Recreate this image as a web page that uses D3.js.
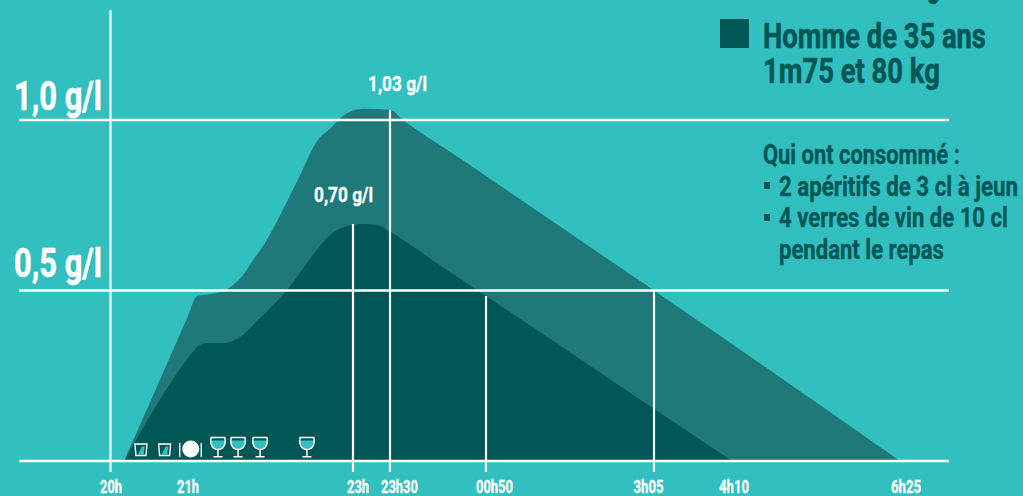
<!DOCTYPE html>
<html>
<head>
<meta charset="utf-8">
<script src="https://cdn.jsdelivr.net/npm/d3@7"></script>
<style>
  html, body { margin: 0; padding: 0; background: #31bfc0; }
  svg { display: block; }
  text { font-family: Roboto, sans-serif; font-weight: 700; }
</style>
</head>
<body>
<div class="graph-container"></div>
<script>
// minutes after 20h
const tickMinutes = [0, 60, 180, 210, 290, 425, 490, 625];
const tickLabels = ['20h', '21h', '23h', '23h30', '00h50', '3h05', '4h10', '6h25'];
const guideMinutes = [180, 210, 290, 425];
const guideLevels = [0.695, 1.03, 0.484, 0.5];

// alcohol level g/l
const minutesBack = [10.8, 40, 60, 66.5, 70.9, 83.3, 88.4, 100, 107.3, 116, 127, 141.5, 153.8, 163.3, 172.7, 188, 210, 220.8, 260, 290, 330, 425, 490, 625];
const levelBack = [0, 0.252, 0.425, 0.484, 0.487, 0.495, 0.504, 0.545, 0.589, 0.639, 0.721, 0.838, 0.938, 0.974, 1.012, 1.033, 1.03, 1.0, 0.907, 0.836, 0.736, 0.5, 0.343, 0];
const minutesFront = [10.8, 40.8, 57.7, 68.7, 73.8, 85.4, 95.6, 112.4, 132, 150.9, 163.3, 180, 188, 199.5, 210, 250, 290, 340, 400, 490];
const levelFront = [0, 0.194, 0.29, 0.34, 0.346, 0.346, 0.358, 0.419, 0.501, 0.604, 0.663, 0.692, 0.695, 0.692, 0.672, 0.578, 0.484, 0.362, 0.214, 0];

const gridLevels = [0, 0.5, 1];
const levelLabels = ['1,0 g/l', '0,5 g/l'];
const legendLines = ['Homme de 35 ans', '1m75 et 80 kg'];
const noteLines = ['Qui ont consommé :', '2 apéritifs de 3 cl à jeun', '4 verres de vin de 10 cl', 'pendant le repas'];
const glassMinutes = [81.8, 96.4, 112.4, 146.5];
const tumblerMinutes = [23.8, 42];
const plateMinutes = 62;

const [width, height] = [1023, 496];
const bg = '#31bfc0', dark = '#015756', mid = '#1f7978';

// the time axis of the original is hand placed, not linear
const x = d3.scaleLinear().domain(tickMinutes).range([110, 188, 353, 390, 486, 654, 732, 900]);
const y = d3.scaleLinear().domain([0, 1]).range([461, 120]);

const svg = d3.select('div.graph-container').append('svg')
  .attr('width', width).attr('height', height);

// text squeezed to the condensed width of the original
const label = (t, xPos, yPos, w, size, fill) => {
  const node = svg.append('text')
    .attr('font-size', size).attr('fill', fill)
    .attr('stroke', fill).attr('stroke-width', size > 30 ? 0.6 : 0.35)
    .text(t);
  const squeeze = w / node.node().getComputedTextLength();
  node.attr('transform', `translate(${xPos},${yPos}) scale(${squeeze},1)`);
  return node;
};

const area = d3.area().x(d => x(d[0])).y0(y(0)).y1(d => y(d[1])).curve(d3.curveMonotoneX);

svg.append('path').datum(d3.zip(minutesBack, levelBack)).attr('d', area).attr('fill', mid);
svg.append('path').datum(d3.zip(minutesFront, levelFront)).attr('d', area).attr('fill', dark);

// grid lines
svg.selectAll('line.grid').data(gridLevels).enter().append('line')
  .attr('class', 'grid')
  .attr('x1', 19).attr('x2', 949)
  .attr('y1', d => y(d)).attr('y2', d => y(d))
  .attr('stroke', '#fff').attr('stroke-width', 2.4);

// vertical axis and guides
svg.append('line').attr('x1', x(0) + 0.5).attr('x2', x(0) + 0.5).attr('y1', 10).attr('y2', 472)
  .attr('stroke', '#fff').attr('stroke-width', 2.2);
svg.selectAll('line.guide').data(guideMinutes).enter().append('line')
  .attr('class', 'guide')
  .attr('x1', d => x(d)).attr('x2', d => x(d))
  .attr('y1', (d, i) => y(guideLevels[i])).attr('y2', 472)
  .attr('stroke', '#fff').attr('stroke-width', 2.2);

// x labels, nudged off their ticks like the original
const labelNudge = [1, 0, 5, 9.5, 8.5, -5.5, 2, 6];
tickLabels.forEach((t, i) => {
  const w = t.length === 3 ? 22 : t.length === 4 ? 30 : 37;
  label(t, x(tickMinutes[i]) + labelNudge[i] - w / 2, 493, w, 18, '#fff');
});

// y labels
label(levelLabels[0], 14, 110, 88, 41, '#fff');
label(levelLabels[1], 14, 277, 88, 41, '#fff');
label('1,03 g/l', 368, 91, 59, 20, '#fff');
label('0,70 g/l', 314, 202, 59, 20, '#fff');

// legend
label('g', 927, -3, 13, 35, dark);
svg.append('rect').attr('x', 720).attr('y', 19).attr('width', 29).attr('height', 29).attr('fill', dark);
label(legendLines[0], 763, 48, 223, 35, dark);
label(legendLines[1], 763, 83, 177, 35, dark);

label(noteLines[0], 763, 164, 197, 27, dark);
label(noteLines[1], 779, 196, 239, 27, dark);
label(noteLines[2], 779, 227, 229, 27, dark);
label(noteLines[3], 779, 259, 165, 27, dark);
[182, 214].forEach(yy => {
  svg.append('rect').attr('x', 764).attr('y', yy).attr('width', 6).attr('height', 7).attr('fill', dark);
});

// pictograms
const glass = svg.selectAll('g.glass').data(glassMinutes).enter().append('g')
  .attr('class', 'glass')
  .attr('transform', d => `translate(${x(d)},437.5)`);
glass.append('path').attr('d', 'M-6.9,3 H6.9 C7,8 4,11.3 0,11.3 C-4,11.3 -7,8 -6.9,3 Z').attr('fill', bg);
glass.append('path').attr('d', 'M-6.8,0 H6.8 C8.6,7 5,12 0,12 C-5,12 -8.6,7 -6.8,0 Z M0,12 V19 M-4.5,19.3 H4.5')
  .attr('fill', 'none').attr('stroke', '#fff').attr('stroke-width', 1.5);

const tumbler = svg.selectAll('g.tumbler').data(tumblerMinutes).enter().append('g')
  .attr('class', 'tumbler')
  .attr('transform', d => `translate(${x(d)},449.5)`);
tumbler.append('path').attr('d', 'M-3,5 L0,-1 L1,-3 L4,-3 L3,1 L3,5 Z').attr('fill', bg);
tumbler.append('path').attr('d', 'M-6,-5.5 H6 L5,6 H-5 Z').attr('fill', 'none').attr('stroke', '#fff').attr('stroke-width', 1.4);

const plateX = x(plateMinutes);
svg.append('circle').attr('cx', plateX).attr('cy', 449).attr('r', 8.5).attr('fill', '#fff');
svg.append('path').attr('d', `M${plateX - 11},443 V457 M${plateX + 10.5},443 V457`)
  .attr('stroke', '#fff').attr('stroke-width', 1.4);
</script>
</body>
</html>
